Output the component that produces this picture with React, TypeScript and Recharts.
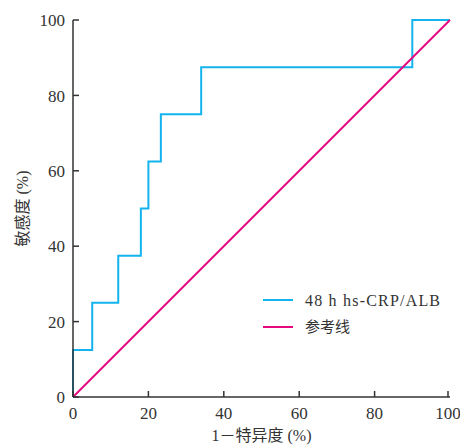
import React from 'react';
import { LineChart, Line, XAxis, YAxis, Legend } from 'recharts';

// ROC curve (1 - specificity %, sensitivity %), step after
const rocFpr = [0, 0, 5.1, 12, 18, 20, 23.3, 34, 90, 100];
const rocTpr = [0, 12.5, 25, 37.5, 50, 62.5, 75, 87.5, 100, 100];
// Reference line
const refFpr = [0, 100];
const refTpr = [0, 100];

const xTicks = [0, 20, 40, 60, 80, 100];
const yTicks = [0, 20, 40, 60, 80, 100];
const seriesNames = ['48 h hs-CRP/ALB', '参考线'];
const xLabel = '1－特异度 (%)';
const yLabel = '敏感度 (%)';

const colors = ['#13B4EE', '#E5087F'];
const FONT = "'Liberation Serif', 'Noto Sans CJK SC', serif";
const TEXT = '#333';

const rocData = rocFpr.map((x, i) => ({ x, y: rocTpr[i] }));
const refData = refFpr.map((x, i) => ({ x, y: refTpr[i] }));

const YTick = (props: any) => {
  const { x, y, payload } = props;
  return (
    <g>
      <line x1={x + 8} x2={x + 14} y1={y} y2={y} stroke={TEXT} strokeWidth={1.5} />
      <text x={x} y={y} dy="0.36em" textAnchor="end" fontFamily={FONT} fontSize={17} fill={TEXT}>
        {payload.value}
      </text>
    </g>
  );
};

const XTick = (props: any) => {
  const { x, y, payload } = props;
  return (
    <g>
      <line x1={x} x2={x} y1={y - 10} y2={y - 16} stroke={TEXT} strokeWidth={1.5} />
      <text x={x} y={y} dy="0.71em" textAnchor="middle" fontFamily={FONT} fontSize={17} fill={TEXT}>
        {payload.value}
      </text>
    </g>
  );
};

const renderLegend = () => (
  <div style={{ fontFamily: FONT, color: TEXT }}>
    {seriesNames.map((n, i) => (
      <div key={n} style={{ display: 'flex', alignItems: 'center', height: 27 }}>
        <svg width={30} height={4} style={{ display: 'block' }}>
          <line x1={0} x2={30} y1={2} y2={2} stroke={colors[i]} strokeWidth={2} />
        </svg>
        <span
          style={{
            marginLeft: 12,
            fontSize: i === 0 ? 16 : 15,
            letterSpacing: i === 0 ? 1.2 : 0,
            whiteSpace: 'nowrap',
            lineHeight: '27px',
          }}
        >
          {n}
        </span>
      </div>
    ))}
  </div>
);

export default function App() {
  return (
    <div style={{ position: 'absolute', left: 0, top: 0, width: 460, height: 445 }}>
      <LineChart width={460} height={445} margin={{ top: 20, right: 10, left: 0, bottom: 0 }}>
        <XAxis
          type="number"
          dataKey="x"
          domain={[0, 100]}
          ticks={xTicks}
          height={48}
          tickSize={0}
          tickMargin={10}
          tick={<XTick />}
          axisLine={{ stroke: TEXT, strokeWidth: 1.5 }}
          label={{
            content: (p: any) => {
              const vb = p.viewBox;
              return (
                <text
                  x={vb.x + vb.width / 2}
                  y={vb.y + 44}
                  textAnchor="middle"
                  fontFamily={FONT}
                  fontSize={16}
                  fill={TEXT}
                >
                  {xLabel}
                </text>
              );
            },
          }}
        />
        <YAxis
          type="number"
          dataKey="y"
          domain={[0, 100]}
          ticks={yTicks}
          width={73}
          tickSize={0}
          tickMargin={8}
          tick={<YTick />}
          axisLine={{ stroke: TEXT, strokeWidth: 1.5 }}
          label={{
            content: (p: any) => {
              const vb = p.viewBox;
              const cx = vb.x + 22;
              const cy = vb.y + vb.height / 2;
              return (
                <text
                  x={cx}
                  y={cy}
                  transform={`rotate(-90 ${cx} ${cy})`}
                  textAnchor="middle"
                  dominantBaseline="central"
                  fontFamily={FONT}
                  fontSize={16}
                  fill={TEXT}
                >
                  {yLabel}
                </text>
              );
            },
          }}
        />
        <Legend
          layout="vertical"
          align="center"
          verticalAlign="middle"
          content={renderLegend}
          wrapperStyle={{ left: 263, top: 286.5, width: 195 }}
        />
        <Line
          data={rocData}
          dataKey="y"
          name={seriesNames[0]}
          type="stepAfter"
          stroke={colors[0]}
          strokeWidth={2}
          dot={false}
          isAnimationActive={false}
        />
        <Line
          data={refData}
          dataKey="y"
          name={seriesNames[1]}
          type="linear"
          stroke={colors[1]}
          strokeWidth={2}
          dot={false}
          isAnimationActive={false}
        />
      </LineChart>
    </div>
  );
}
